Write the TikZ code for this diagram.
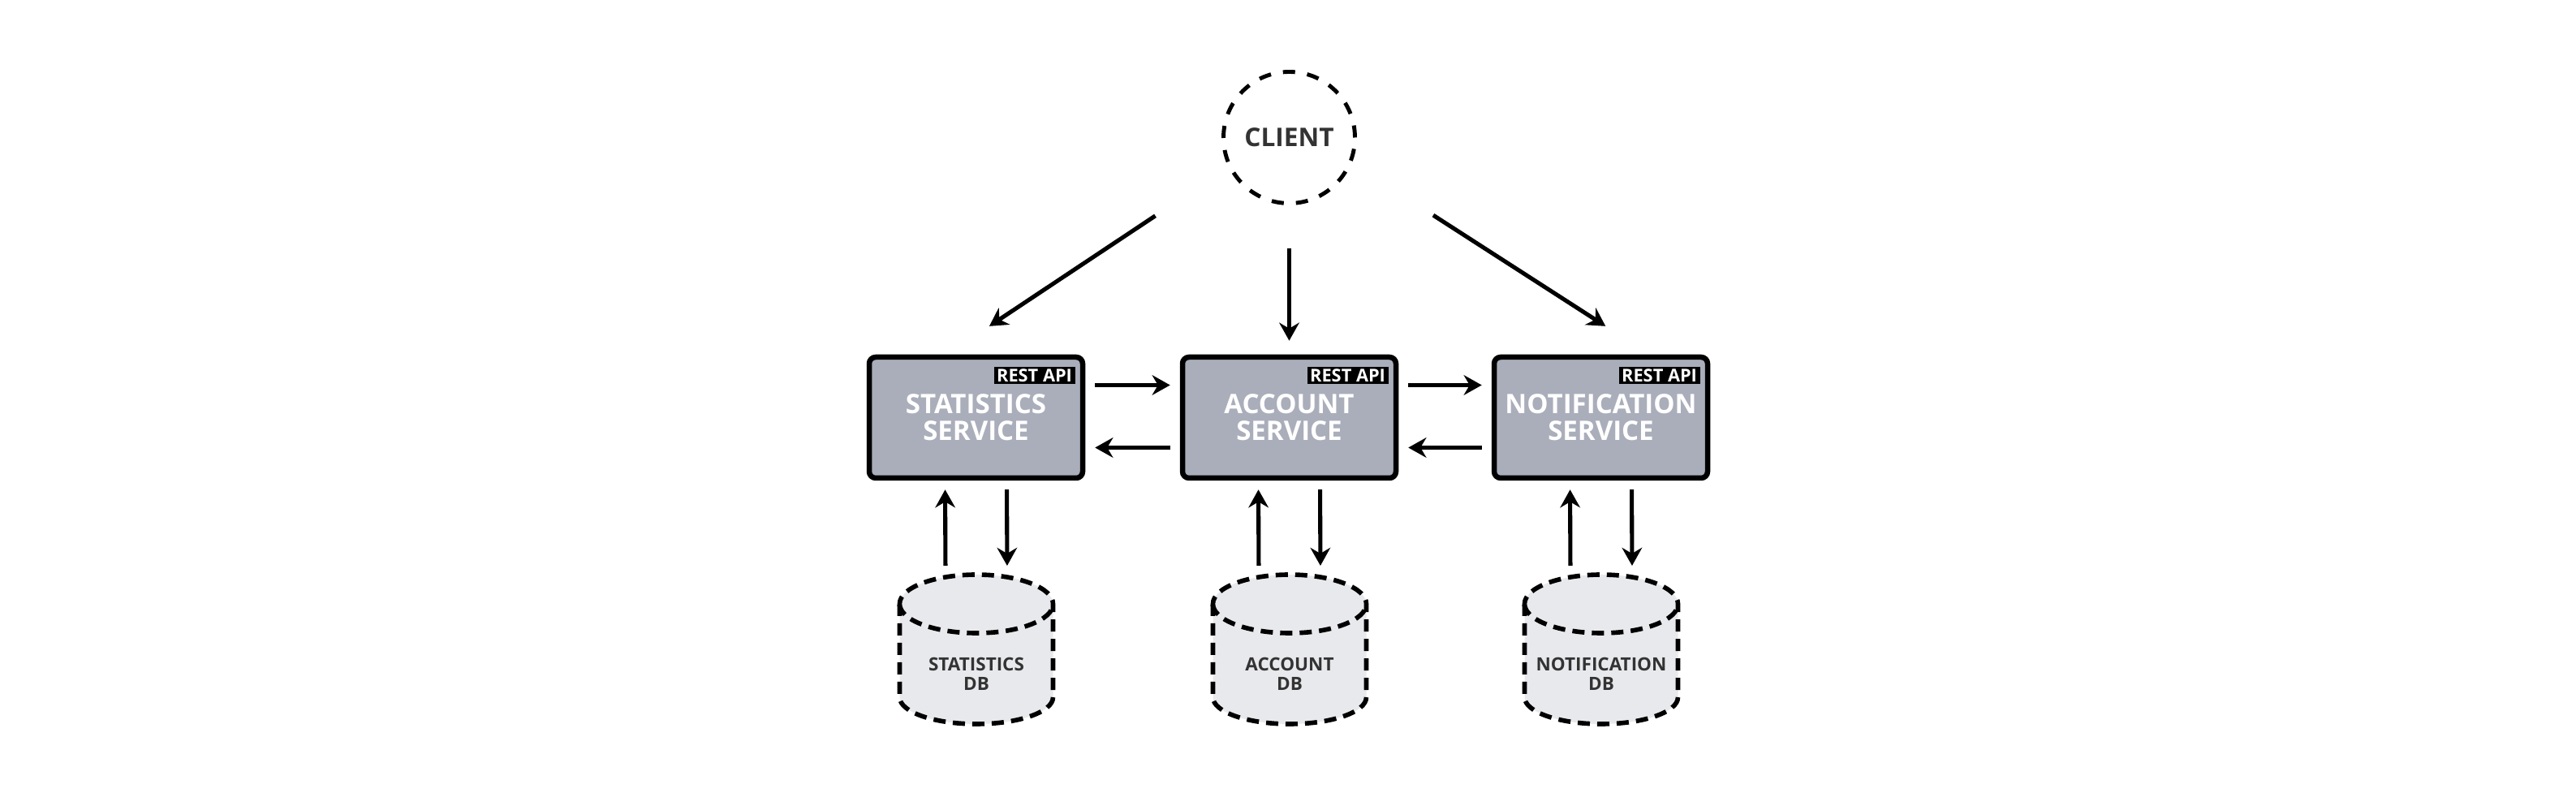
\documentclass[tikz,border=0pt]{standalone}
\usepackage{fontspec}
\setmainfont{Open Sans}
\usepackage{tikz}
\usetikzlibrary{arrows.meta}
\usetikzlibrary{shapes}
\usetikzlibrary{backgrounds}

\definecolor{servicegray}{RGB}{170,174,187}
\definecolor{dbgray}{RGB}{232,233,236}
\definecolor{textgray}{RGB}{51,51,51}

\begin{document}
\begin{tikzpicture}
        \useasboundingbox (0, 0) rectangle (31.74, -9.77);
        \begin{scope}[every node/.style={circle,draw,line width=1.4pt,dash pattern=on 0.15cm off 0.15cm,
            minimum size=1.62cm,inner sep=0pt,text=textgray,font=\fontsize{9}{10}\selectfont\bfseries}]
            \node (1) at (15.885, -1.695) {CLIENT};
        \end{scope}
        \begin{scope}[every node/.style={rectangle,rounded corners=0.08cm,draw,line width=1.85pt,fill=servicegray,
            minimum width=2.63cm,minimum height=1.49cm,inner sep=0pt,align=center,text=white,
            font=\fontsize{9.4}{9.4}\selectfont\bfseries}]
            \node (2) at (12.025, -5.145) {STATISTICS\\SERVICE};
            \node (3) at (15.885, -5.145) {ACCOUNT\\SERVICE};
            \node (4) at (19.725, -5.145) {NOTIFICATION\\SERVICE};
        \end{scope}
        \begin{scope}[every node/.style={fill=black,text=white,inner sep=0pt,anchor=north east,
            minimum width=1cm,minimum height=0.21cm,font=\fontsize{6.2}{6.2}\selectfont\bfseries}]
            \node (2a) at ([xshift=-0.12cm,yshift=-0.15cm]2.north east) {REST API};
            \node (3a) at ([xshift=-0.12cm,yshift=-0.15cm]3.north east) {REST API};
            \node (4a) at ([xshift=-0.12cm,yshift=-0.15cm]4.north east) {REST API};
        \end{scope}
        \begin{scope}[every node/.style={rectangle,outer sep=0pt,inner sep=0pt,minimum width=1.89cm,
            minimum height=1.84cm,align=center,text=textgray,font=\fontsize{6.4}{6.8}\selectfont\bfseries}]
            \node[label={[yshift=-0.3cm]center:STATISTICS\\DB}] (5) at (12.03, -8.0) {};
            \node[label={[yshift=-0.3cm]center:ACCOUNT\\DB}] (6) at (15.89, -8.0) {};
            \node[label={[yshift=-0.3cm]center:NOTIFICATION\\DB}] (7) at (19.73, -8.0) {};
        \end{scope}
        \begin{scope}[on background layer]
            \foreach \n in {5,6,7}
                \draw[line width=1.6pt,dash pattern=on 0.15cm off 0.09cm,fill=dbgray]
                    ([yshift=-0.36cm]\n.north west) -- ([yshift=0.33cm]\n.south west)
                    arc[start angle=180,end angle=360,x radius=0.945cm,y radius=0.33cm]
                    -- ([yshift=-0.36cm]\n.north east)
                    arc[start angle=0,end angle=180,x radius=0.945cm,y radius=0.36cm] -- cycle
                    arc[start angle=180,end angle=360,x radius=0.945cm,y radius=0.36cm];
        \end{scope}
        \begin{scope}[>={Stealth[length=6.3pt,width=7pt]},
            every edge/.style={draw=black,line width=1.45pt}]
                    \path[->] (1.206) edge[shorten <=1.08cm,shorten >=0.63cm] ([xshift=-0.36cm]2.north);
                    \path[->] (1.south) edge[shorten <=0.53cm,shorten >=0.17cm] (3.north);
                    \path[->] (1.338) edge[shorten <=1.19cm,shorten >=0.645cm] ([xshift=0.6cm]4.north);
                    \foreach \a/\b in {2/3,3/4} {
                        \path[->] ([yshift=0.4cm]\a.east) edge[shorten <=0.12cm,shorten >=0.12cm] ([yshift=0.4cm]\b.west);
                        \path[->] ([yshift=-0.37cm]\b.west) edge[shorten <=0.12cm,shorten >=0.12cm] ([yshift=-0.37cm]\a.east);
                    }
                    \foreach \s/\d in {2/5,3/6,4/7} {
                        \path[->] ([xshift=-0.38cm]\d.north) edge[shorten <=0.11cm,shorten >=0.11cm] ([xshift=-0.38cm]\s.south);
                        \path[->] ([xshift=0.38cm]\s.south) edge[shorten <=0.11cm,shorten >=0.11cm] ([xshift=0.38cm]\d.north);
                    }
        \end{scope}
    \end{tikzpicture}
\end{document}
